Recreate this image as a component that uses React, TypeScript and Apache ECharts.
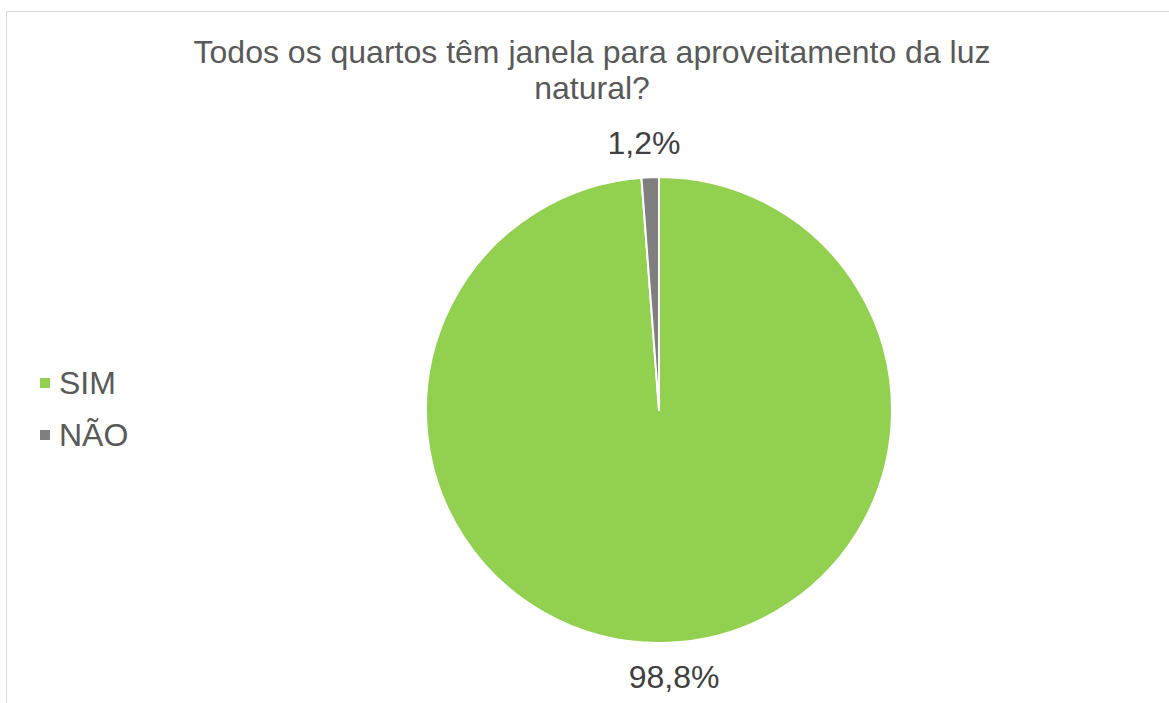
import React, { useEffect, useRef } from "react";
import * as echarts from "echarts";

const titleText = "Todos os quartos têm janela para aproveitamento da luz\nnatural?";
const categories = ["SIM", "NÃO"];
const values = [98.8, 1.2];
const colors = ["#92d050", "#7f7f7f"];

export default function App() {
  const ref = useRef<HTMLDivElement>(null);
  useEffect(() => {
    if (!ref.current) return;
    const chart = echarts.init(ref.current, null, { renderer: "svg" });
    const font = "'Liberation Sans', Arial, sans-serif";
    chart.setOption({
      animation: false,
      backgroundColor: "#ffffff",
      graphic: [
        {
          type: "rect",
          shape: { x: 6.5, y: 11.5, width: 1300, height: 900 },
          style: { fill: "none", stroke: "#d9d9d9", lineWidth: 1 },
          silent: true,
        },
      ],
      title: {
        text: titleText,
        left: 587,
        top: 29,
        textAlign: "center",
        textStyle: {
          fontFamily: font,
          fontSize: 32,
          fontWeight: "normal",
          color: "#595959",
          lineHeight: 36,
        },
      },
      legend: {
        orient: "vertical",
        left: 33,
        top: 361,
        icon: "rect",
        itemWidth: 12,
        itemHeight: 12,
        itemGap: 18,
        data: categories,
        textStyle: {
          fontFamily: font,
          fontSize: 32,
          color: "#595959",
          lineHeight: 34,
          padding: [0, 0, 0, 3],
        },
      },
      series: [
        {
          type: "pie",
          center: [659, 410],
          radius: 233,
          startAngle: 90,
          clockwise: true,
          avoidLabelOverlap: false,
          itemStyle: { borderColor: "#ffffff", borderWidth: 2 },
          label: {
            show: true,
            position: "outside",
            formatter: (p: any) => p.value.toFixed(1).replace(".", ",") + "%",
            fontFamily: font,
            fontSize: 32,
            color: "#404040",
          },
          labelLine: { show: false, length: 34, length2: 0 },
          labelLayout: () => ({ align: "center", verticalAlign: "middle" }),
          emphasis: { disabled: true },
          data: categories.map((c, i) => ({
            name: c,
            value: values[i],
            itemStyle: { color: colors[i] },
          })),
        },
      ],
    });
    return () => chart.dispose();
  }, []);
  return (
    <div
      ref={ref}
      style={{ position: "fixed", left: 0, top: 0, width: 1169, height: 703 }}
    />
  );
}
